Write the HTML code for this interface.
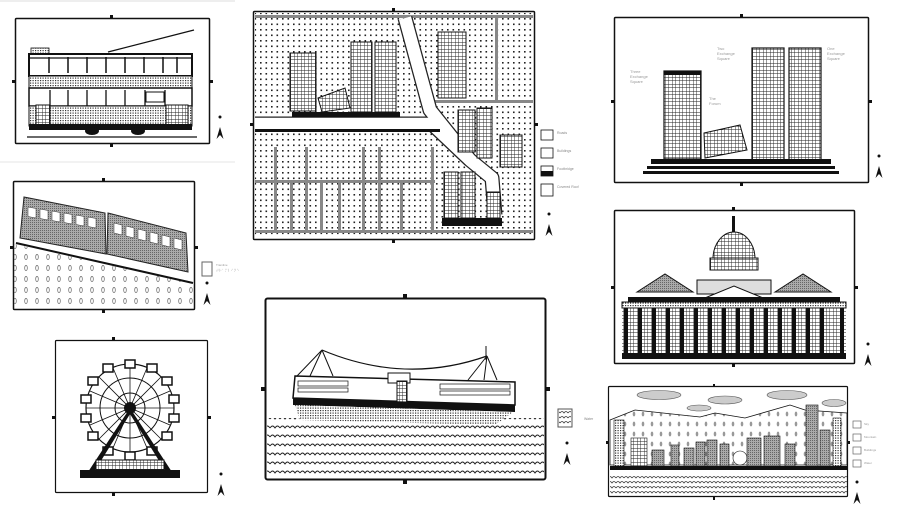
<!DOCTYPE html>
<html><head><meta charset="utf-8"><style>
html,body{margin:0;padding:0;background:#fff;width:900px;height:505px;overflow:hidden}
svg{display:block}
text{font-family:"Liberation Sans",sans-serif}
</style></head><body>
<svg width="900" height="505" viewBox="0 0 900 505" xmlns="http://www.w3.org/2000/svg">
<defs>
<pattern id="dots" width="5.5" height="5.5" patternUnits="userSpaceOnUse"><rect x="1.5" y="1.5" width="1.6" height="1.6" fill="#222"/></pattern>
<pattern id="fine" width="2.5" height="2.5" patternUnits="userSpaceOnUse"><rect width="2.5" height="2.5" fill="#fff"/><rect width="1.2" height="1.2" fill="#333"/></pattern>
<pattern id="grid" width="3.5" height="3.5" patternUnits="userSpaceOnUse"><rect width="3.5" height="3.5" fill="#fff"/><path d="M0 0H3.5M0 0V3.5" stroke="#222" stroke-width="0.9"/></pattern>
<pattern id="grey" width="2" height="2" patternUnits="userSpaceOnUse"><rect width="2" height="2" fill="#aaa"/><rect width="1" height="1" fill="#666"/></pattern>
<pattern id="tree" width="11" height="11" patternUnits="userSpaceOnUse"><ellipse cx="4" cy="4" rx="1.3" ry="2.5" fill="none" stroke="#666" stroke-width="0.7"/></pattern>
<pattern id="tree2" width="9" height="10" patternUnits="userSpaceOnUse"><ellipse cx="4" cy="4" rx="1.3" ry="2.4" fill="#999"/></pattern>
<pattern id="wave" width="10" height="9" patternUnits="userSpaceOnUse"><path d="M0 5 Q2.5 1 5 5 Q7.5 1 10 5" fill="none" stroke="#222" stroke-width="0.9"/></pattern>
<pattern id="wave2" width="8" height="5" patternUnits="userSpaceOnUse"><path d="M0 3 Q2 0 4 3 Q6 0 8 3" fill="none" stroke="#333" stroke-width="0.7"/></pattern>
<g id="north"><circle cx="0" cy="0" r="1.5" fill="#111"/><path d="M-3.5 22 L0 10 L3.5 22 L0 18Z" fill="#111"/></g>
</defs>

<line x1="0" y1="1" x2="235" y2="1" stroke="#ddd"/>
<line x1="0" y1="162" x2="235" y2="162" stroke="#e4e4e4"/>

<!-- 1 Tram -->
<rect x="15.5" y="18.5" width="194" height="125" fill="#fff" stroke="#111" stroke-width="1.5" rx="1"/>
<g fill="#111"><rect x="110" y="15" width="3" height="3"/><rect x="110" y="144" width="3" height="3"/><rect x="12" y="80" width="3" height="3"/><rect x="210" y="80" width="3" height="3"/></g>
<line x1="108" y1="52" x2="194" y2="30" stroke="#111" stroke-width="1.2"/>
<rect x="31" y="48" width="18" height="6" fill="url(#fine)" stroke="#111" stroke-width="0.8"/>
<rect x="29" y="54" width="163" height="22" fill="#fff" stroke="#111" stroke-width="2"/>
<line x1="29" y1="58" x2="192" y2="58" stroke="#111" stroke-width="1.2"/>
<g stroke="#111" stroke-width="1.5"><line x1="49" y1="57" x2="49" y2="73"/><line x1="68" y1="57" x2="68" y2="73"/><line x1="87" y1="57" x2="87" y2="73"/><line x1="106" y1="57" x2="106" y2="73"/><line x1="125" y1="57" x2="125" y2="73"/><line x1="144" y1="57" x2="144" y2="73"/><line x1="163" y1="57" x2="163" y2="73"/><line x1="177" y1="57" x2="177" y2="73"/></g>
<rect x="29" y="76" width="163" height="12" fill="url(#fine)" stroke="#111"/>
<rect x="29" y="88" width="163" height="18" fill="#fff" stroke="#111" stroke-width="1.5"/>
<g stroke="#111" stroke-width="1.3"><line x1="50" y1="90" x2="50" y2="106"/><line x1="68" y1="90" x2="68" y2="106"/><line x1="87" y1="90" x2="87" y2="106"/><line x1="106" y1="90" x2="106" y2="106"/><line x1="125" y1="90" x2="125" y2="106"/><line x1="145" y1="90" x2="145" y2="106"/><line x1="165" y1="90" x2="165" y2="106"/></g>
<rect x="146" y="92" width="18" height="10" fill="#fff" stroke="#111"/>
<rect x="29" y="106" width="163" height="20" fill="url(#fine)" stroke="#111"/>
<rect x="36" y="105" width="14" height="22" fill="url(#grid)" stroke="#111"/>
<rect x="166" y="105" width="22" height="22" fill="url(#grid)" stroke="#111"/>
<rect x="29" y="124" width="163" height="6" fill="#111"/>
<ellipse cx="92" cy="131" rx="7" ry="4" fill="#111"/><ellipse cx="138" cy="131" rx="7" ry="4" fill="#111"/>
<line x1="27" y1="137" x2="197" y2="137" stroke="#111" stroke-width="1.2"/>
<use href="#north" x="220" y="117"/>

<!-- 2 Peak tram -->
<rect x="13.5" y="181.5" width="181" height="128" fill="#fff" stroke="#111" stroke-width="1.5" rx="1"/>
<g fill="#111"><rect x="102" y="178" width="3" height="3"/><rect x="102" y="310" width="3" height="3"/><rect x="10" y="246" width="3" height="3"/><rect x="195" y="246" width="3" height="3"/></g>
<path d="M14 244 L193 284 L193 309 L14 309Z" fill="url(#tree)"/>
<line x1="16" y1="243" x2="193" y2="283" stroke="#111" stroke-width="2"/>
<path d="M24 197 L105 213 L106 254 L20 238Z" fill="url(#grey)" stroke="#222"/>
<path d="M108 213 L186 233 L188 272 L107 254Z" fill="url(#grey)" stroke="#222"/>
<g fill="#fff" stroke="#333" stroke-width="0.5">
<path d="M28 207 L36 208.5 L36 218 L28 216.5Z"/><path d="M40 209 L48 210.5 L48 220 L40 218.5Z"/><path d="M52 211 L60 212.5 L60 222 L52 220.5Z"/><path d="M64 213 L72 214.5 L72 224 L64 222.5Z"/><path d="M76 215 L84 216.5 L84 226 L76 224.5Z"/><path d="M88 217 L96 218.5 L96 228 L88 226.5Z"/>
<path d="M114 223 L122 225 L122 235 L114 233Z"/><path d="M126 226 L134 228 L134 238 L126 236Z"/><path d="M138 229 L146 231 L146 241 L138 239Z"/><path d="M150 232 L158 234 L158 244 L150 242Z"/><path d="M162 235 L170 237 L170 247 L162 245Z"/><path d="M174 238 L182 240 L182 250 L174 248Z"/></g>
<rect x="202" y="262" width="10" height="14" fill="#fff" stroke="#666"/>
<text x="216" y="266" font-size="3" fill="#999">Tramline</text><text x="216" y="272" font-size="4" fill="#aaa">⠞⠗⠁⠍⠇⠊⠝⠑</text>
<use href="#north" x="207" y="283"/>

<!-- 3 Map -->
<rect x="253.5" y="11.5" width="281" height="228" fill="#fff" stroke="#111" stroke-width="1.5" rx="1"/>
<g fill="#111"><rect x="392" y="8" width="3" height="3"/><rect x="392" y="240" width="3" height="3"/><rect x="250" y="123" width="3" height="3"/><rect x="535" y="123" width="3" height="3"/></g>
<rect x="255" y="13" width="278" height="225" fill="url(#dots)"/>
<g fill="#888">
<rect x="255" y="15" width="278" height="3"/><rect x="255" y="230" width="278" height="3"/>
<rect x="495" y="18" width="3" height="82"/><rect x="435" y="100" width="98" height="3"/>
<rect x="255" y="180" width="180" height="3"/>
<rect x="274" y="147" width="3" height="83"/><rect x="305" y="147" width="3" height="83"/><rect x="362" y="147" width="3" height="83"/><rect x="378" y="147" width="3" height="83"/><rect x="431" y="147" width="3" height="83"/>
<rect x="290" y="183" width="3" height="47"/><rect x="320" y="183" width="3" height="47"/><rect x="338" y="183" width="3" height="47"/><rect x="400" y="183" width="3" height="47"/>
</g>
<g fill="none" stroke-linejoin="round">
<path d="M255 124 L432 124 L470 160 L492 178 L495 215" stroke="#222" stroke-width="15"/>
<path d="M405 18 L430 110 L470 160" stroke="#222" stroke-width="15"/>
<path d="M255 124 L432 124 L470 160 L492 178 L495 215" stroke="#fff" stroke-width="12.5"/>
<path d="M405 18 L430 110 L470 160" stroke="#fff" stroke-width="12.5"/>
</g>
<rect x="255" y="129" width="185" height="3" fill="#111"/>
<rect x="290" y="53" width="26" height="58" fill="url(#grid)" stroke="#111"/>
<path d="M318 98 L345 88 L350 108 L322 112Z" fill="url(#grid)" stroke="#111"/>
<rect x="351" y="42" width="21" height="70" fill="url(#grid)" stroke="#111"/>
<rect x="375" y="42" width="21" height="70" fill="url(#grid)" stroke="#111"/>
<rect x="292" y="112" width="108" height="5" fill="#111"/>
<rect x="438" y="32" width="28" height="66" fill="url(#grid)" stroke="#111"/>
<rect x="458" y="110" width="17" height="42" fill="url(#grid)" stroke="#111"/>
<rect x="477" y="108" width="15" height="50" fill="url(#grid)" stroke="#111"/>
<rect x="500" y="135" width="22" height="32" fill="url(#grid)" stroke="#111"/>
<rect x="444" y="172" width="14" height="48" fill="url(#grid)" stroke="#111"/>
<rect x="461" y="172" width="14" height="48" fill="url(#grid)" stroke="#111"/>
<rect x="487" y="192" width="13" height="28" fill="url(#grid)" stroke="#111"/>
<rect x="442" y="218" width="60" height="8" fill="#111"/>
<g fill="#fff" stroke="#111" stroke-width="0.8"><rect x="541" y="130" width="12" height="10"/><rect x="541" y="148" width="12" height="10"/><rect x="541" y="166" width="12" height="10"/><rect x="541" y="184" width="12" height="12"/></g>
<rect x="541" y="171" width="12" height="5" fill="#111"/>
<g font-size="3.5" fill="#888"><text x="557" y="134">Roads</text><text x="557" y="152">Buildings</text><text x="557" y="170">Footbridge</text><text x="557" y="188">Covered Roof</text></g>
<use href="#north" x="549" y="214"/>

<!-- 4 Exchange Square -->
<rect x="614.5" y="17.5" width="254" height="165" fill="#fff" stroke="#111" stroke-width="1.5" rx="1"/>
<g fill="#111"><rect x="740" y="14" width="3" height="3"/><rect x="740" y="183" width="3" height="3"/><rect x="611" y="100" width="3" height="3"/><rect x="869" y="100" width="3" height="3"/></g>
<rect x="664" y="71" width="37" height="88" fill="url(#grid)" stroke="#111" stroke-width="1.2"/>
<rect x="664" y="71" width="37" height="4" fill="#111"/>
<path d="M704 133 L740 125 L747 150 L705 158Z" fill="url(#grid)" stroke="#111"/>
<rect x="752" y="48" width="32" height="112" fill="url(#grid)" stroke="#111" stroke-width="1.2"/>
<rect x="789" y="48" width="32" height="112" fill="url(#grid)" stroke="#111" stroke-width="1.2"/>
<rect x="651" y="159" width="180" height="5" fill="#111"/>
<rect x="647" y="166" width="188" height="3" fill="#111"/>
<rect x="643" y="171" width="196" height="3" fill="#111"/>
<g font-size="4" fill="#999"><text x="630" y="73">Three</text><text x="630" y="78">Exchange</text><text x="630" y="83">Square</text>
<text x="717" y="50">Two</text><text x="717" y="55">Exchange</text><text x="717" y="60">Square</text>
<text x="827" y="50">One</text><text x="827" y="55">Exchange</text><text x="827" y="60">Square</text>
<text x="709" y="100">The</text><text x="709" y="105">Forum</text></g>
<use href="#north" x="879" y="156"/>

<!-- 5 LegCo -->
<rect x="614.5" y="210.5" width="240" height="153" fill="#fff" stroke="#111" stroke-width="1.5" rx="1"/>
<g fill="#111"><rect x="732" y="207" width="3" height="3"/><rect x="732" y="364" width="3" height="3"/><rect x="611" y="286" width="3" height="3"/><rect x="855" y="286" width="3" height="3"/></g>
<rect x="732" y="216" width="3" height="16" fill="#111"/>
<path d="M713 259 A21 27 0 0 1 755 259Z" fill="url(#grid)" stroke="#111"/>
<rect x="710" y="258" width="48" height="12" fill="url(#grid)" stroke="#111"/>
<path d="M637 292 L665 274 L693 292Z" fill="url(#grey)" stroke="#111"/>
<path d="M775 292 L803 274 L831 292Z" fill="url(#grey)" stroke="#111"/>
<rect x="697" y="280" width="74" height="14" fill="#ddd" stroke="#111"/>
<path d="M700 300 L734 286 L768 300Z" fill="#fff" stroke="#111"/>
<rect x="628" y="297" width="212" height="5" fill="#111"/>
<rect x="622" y="302" width="224" height="6" fill="url(#fine)" stroke="#111"/>
<rect x="622" y="308" width="224" height="45" fill="url(#grid)"/>
<g fill="#111"><rect x="624" y="308" width="4" height="46"/><rect x="638" y="308" width="4" height="46"/><rect x="652" y="308" width="4" height="46"/><rect x="666" y="308" width="4" height="46"/><rect x="680" y="308" width="4" height="46"/><rect x="694" y="308" width="4" height="46"/><rect x="708" y="308" width="4" height="46"/><rect x="722" y="308" width="4" height="46"/><rect x="736" y="308" width="4" height="46"/><rect x="750" y="308" width="4" height="46"/><rect x="764" y="308" width="4" height="46"/><rect x="778" y="308" width="4" height="46"/><rect x="792" y="308" width="4" height="46"/><rect x="806" y="308" width="4" height="46"/><rect x="820" y="308" width="4" height="46"/><rect x="840" y="308" width="4" height="46"/></g>
<rect x="622" y="353" width="224" height="6" fill="#111"/>
<use href="#north" x="868" y="344"/>

<!-- 6 Ferris wheel -->
<rect x="55.5" y="340.5" width="152" height="152" fill="#fff" stroke="#111" stroke-width="1.2" rx="1"/>
<g fill="#111"><rect x="112" y="337" width="3" height="3"/><rect x="112" y="493" width="3" height="3"/><rect x="52" y="416" width="3" height="3"/><rect x="208" y="416" width="3" height="3"/></g>
<circle cx="130" cy="408" r="44" fill="none" stroke="#111" stroke-width="1.2"/>
<circle cx="130" cy="408" r="30" fill="none" stroke="#111"/>
<circle cx="130" cy="408" r="15" fill="none" stroke="#111"/>
<g stroke="#111" stroke-width="0.8"><line x1="86" y1="408" x2="174" y2="408"/><line x1="130" y1="364" x2="130" y2="452"/><line x1="99" y1="377" x2="161" y2="439"/><line x1="161" y1="377" x2="99" y2="439"/><line x1="90" y1="391" x2="170" y2="425"/><line x1="90" y1="425" x2="170" y2="391"/><line x1="113" y1="368" x2="147" y2="448"/><line x1="147" y1="368" x2="113" y2="448"/></g>
<circle cx="130" cy="408" r="6" fill="#111"/>
<g fill="#fff" stroke="#111" stroke-width="1.5"><rect x="125" y="360" width="10" height="8"/><rect x="147" y="364" width="10" height="8"/><rect x="162" y="377" width="10" height="8"/><rect x="169" y="395" width="10" height="8"/><rect x="169" y="414" width="10" height="8"/><rect x="162" y="432" width="10" height="8"/><rect x="147" y="447" width="10" height="8"/><rect x="125" y="452" width="10" height="8"/><rect x="103" y="447" width="10" height="8"/><rect x="88" y="432" width="10" height="8"/><rect x="81" y="414" width="10" height="8"/><rect x="81" y="395" width="10" height="8"/><rect x="88" y="377" width="10" height="8"/><rect x="103" y="364" width="10" height="8"/></g>
<path d="M130 408 L88 472 L94 472 L130 414 L166 472 L172 472Z" fill="#111"/>
<rect x="96" y="460" width="68" height="10" fill="url(#grid)" stroke="#111"/>
<rect x="80" y="470" width="100" height="8" fill="#111"/>
<use href="#north" x="221" y="474"/>

<!-- 7 Ferry -->
<rect x="265.5" y="298.5" width="280" height="181" fill="#fff" stroke="#111" stroke-width="2" rx="2"/>
<g fill="#111"><rect x="403" y="294" width="4" height="4"/><rect x="403" y="480" width="4" height="4"/><rect x="261" y="387" width="4" height="4"/><rect x="546" y="387" width="4" height="4"/></g>
<rect x="267" y="418" width="277" height="58" fill="url(#wave)"/>
<path d="M322 350 Q405 385 487 356" fill="none" stroke="#111" stroke-width="1.2"/>
<g stroke="#111" stroke-width="1"><line x1="322" y1="350" x2="297" y2="376"/><line x1="322" y1="350" x2="333" y2="376"/><line x1="322" y1="350" x2="310" y2="376"/><line x1="487" y1="356" x2="468" y2="380"/><line x1="487" y1="356" x2="497" y2="380"/><line x1="487" y1="356" x2="484" y2="380"/><line x1="486" y1="346" x2="486" y2="360"/></g>
<path d="M295 376 L515 382 L515 405 L293 398Z" fill="#fff" stroke="#111" stroke-width="1.5"/>
<g fill="none" stroke="#111" stroke-width="0.7"><rect x="298" y="381" width="50" height="5"/><rect x="298" y="388" width="50" height="4"/><rect x="440" y="384" width="70" height="5"/><rect x="440" y="391" width="70" height="4"/></g>
<rect x="388" y="373" width="22" height="10" fill="#fff" stroke="#111"/>
<rect x="397" y="381" width="10" height="30" fill="url(#grid)" stroke="#111"/>
<path d="M293 398 L515 405 L515 412 L293 405Z" fill="#111"/>
<path d="M295 405 L513 412 L495 425 L300 420Z" fill="url(#fine)"/>
<rect x="558" y="409" width="14" height="18" fill="#fff" stroke="#555"/>
<rect x="559" y="410" width="12" height="16" fill="url(#wave2)"/>
<text x="584" y="420" font-size="3.5" fill="#888">Water</text>
<use href="#north" x="567" y="443"/>

<!-- 8 Skyline -->
<rect x="608.5" y="386.5" width="239" height="110" fill="#fff" stroke="#111" stroke-width="1.2" rx="1"/>
<g fill="#111"><rect x="713" y="384" width="2" height="3"/><rect x="713" y="497" width="2" height="3"/><rect x="606" y="441" width="2" height="3"/><rect x="848" y="441" width="2" height="3"/></g>
<g fill="#ccc" stroke="#555" stroke-width="0.6"><ellipse cx="659" cy="395" rx="22" ry="4.5"/><ellipse cx="725" cy="400" rx="17" ry="4"/><ellipse cx="787" cy="395" rx="20" ry="4.5"/><ellipse cx="834" cy="403" rx="12" ry="3.5"/><ellipse cx="699" cy="408" rx="12" ry="3"/></g>
<path d="M610 420 L635 410 L700 417 L715 413 L745 418 L790 405 L805 410 L847 413 L847 465 L610 465Z" fill="url(#tree2)" stroke="#111" stroke-width="0.8"/>
<g stroke="#111" stroke-width="0.6">
<rect x="614" y="420" width="10" height="46" fill="url(#fine)"/>
<rect x="631" y="438" width="16" height="28" fill="url(#grid)"/>
<rect x="652" y="450" width="12" height="16" fill="url(#grey)"/>
<rect x="671" y="445" width="8" height="21" fill="url(#grey)"/>
<rect x="684" y="448" width="10" height="18" fill="url(#grey)"/>
<rect x="696" y="442" width="9" height="24" fill="url(#grey)"/>
<rect x="707" y="440" width="10" height="26" fill="url(#grey)"/>
<rect x="720" y="444" width="9" height="22" fill="url(#grey)"/>
<circle cx="740" cy="458" r="7" fill="#fff"/>
<rect x="747" y="438" width="14" height="28" fill="url(#grey)"/>
<rect x="764" y="436" width="16" height="30" fill="url(#grey)"/>
<rect x="785" y="444" width="10" height="22" fill="url(#grey)"/>
<rect x="806" y="405" width="12" height="61" fill="url(#grey)"/>
<rect x="820" y="430" width="10" height="36" fill="url(#grey)"/>
<rect x="833" y="418" width="8" height="48" fill="url(#fine)"/>
</g>
<rect x="610" y="466" width="237" height="4" fill="#111"/>
<rect x="610" y="474" width="237" height="20" fill="url(#wave2)"/>
<g fill="#fff" stroke="#666" stroke-width="0.7"><rect x="853" y="421" width="8" height="7"/><rect x="853" y="434" width="8" height="7"/><rect x="853" y="447" width="8" height="7"/><rect x="853" y="460" width="8" height="7"/></g>
<g font-size="3" fill="#999"><text x="864" y="425">Sky</text><text x="864" y="438">Mountain</text><text x="864" y="451">Buildings</text><text x="864" y="464">Water</text></g>
<use href="#north" x="857" y="482"/>
</svg>
</body></html>
